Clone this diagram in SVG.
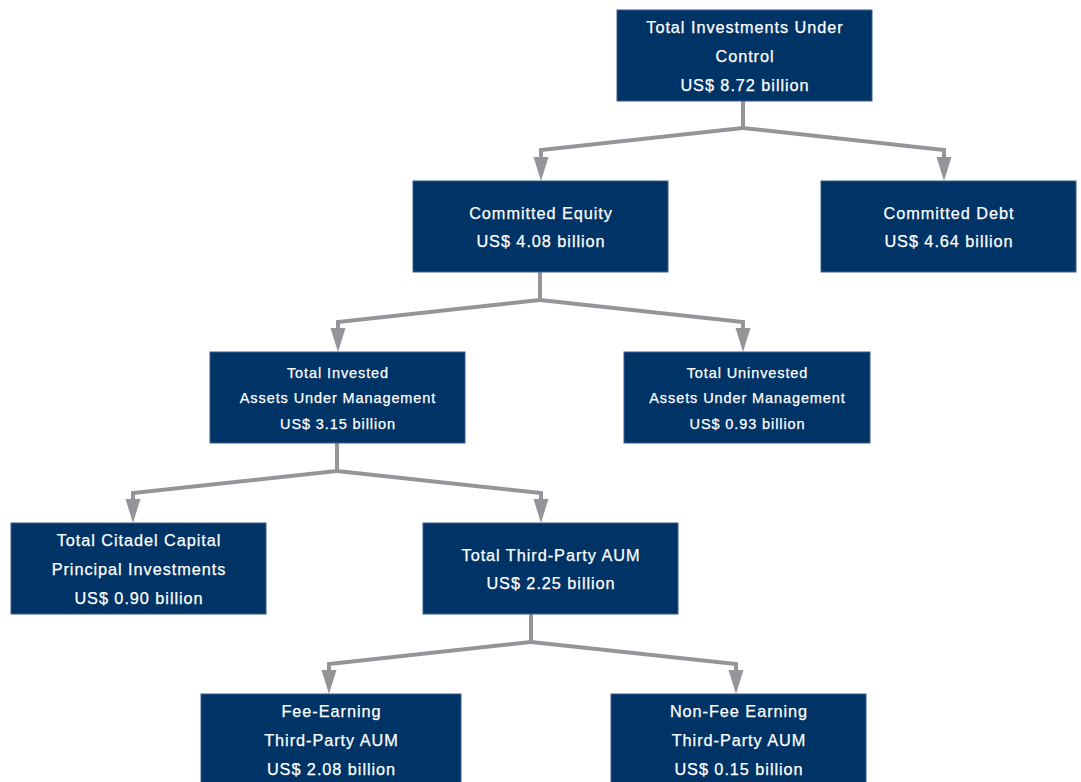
<svg xmlns="http://www.w3.org/2000/svg" width="1081" height="782" viewBox="0 0 1081 782">
<defs>
<style>
.box{fill:#003366;stroke:#3a5f8c;stroke-width:1}
.t{fill:#ffffff;stroke:#ffffff;stroke-width:0.25px;font-family:"Liberation Sans",Arial,sans-serif;font-size:16.3px;letter-spacing:0.95px;text-anchor:middle;dominant-baseline:central}
.s{font-size:14.5px;letter-spacing:0.9px}
.c{fill:none;stroke:#939598;stroke-width:4;stroke-linejoin:miter}
.ah{fill:#939598}
</style>
</defs>
<rect width="1081" height="782" fill="#ffffff"/>
<g id="connectors">
<path class="c" d="M743,101 V128 L541,150 V162"/>
<path class="c" d="M743,128 L944,150 V162"/>
<path d="M533.5,157 L548.5,157 L541,181 Z" class="ah"/>
<path d="M936.5,157 L951.5,157 L944,181 Z" class="ah"/>
<path class="c" d="M540,272 V300 L338,322 V333"/>
<path class="c" d="M540,300 L743,322 V333"/>
<path d="M330.5,328 L345.5,328 L338,352 Z" class="ah"/>
<path d="M735.5,328 L750.5,328 L743,352 Z" class="ah"/>
<path class="c" d="M337,443 V471 L133,493 V504"/>
<path class="c" d="M337,471 L541,493 V504"/>
<path d="M125.5,499 L140.5,499 L133,523 Z" class="ah"/>
<path d="M533.5,499 L548.5,499 L541,523 Z" class="ah"/>
<path class="c" d="M531,614 V642 L329,664 V675"/>
<path class="c" d="M531,642 L736,664 V675"/>
<path d="M321.5,670 L336.5,670 L329,694 Z" class="ah"/>
<path d="M728.5,670 L743.5,670 L736,694 Z" class="ah"/>
</g>
<g id="root">
<rect class="box" x="617" y="10" width="255" height="91"/>
<text class="t" x="745" y="27">Total Investments Under</text>
<text class="t" x="745" y="56">Control</text>
<text class="t" x="745" y="85">US$ 8.72 billion</text>
</g>
<g id="equity">
<rect class="box" x="413" y="181" width="255" height="91"/>
<text class="t" x="541" y="213">Committed Equity</text>
<text class="t" x="541" y="241">US$ 4.08 billion</text>
</g>
<g id="debt">
<rect class="box" x="821" y="181" width="255" height="91"/>
<text class="t" x="949" y="213">Committed Debt</text>
<text class="t" x="949" y="241">US$ 4.64 billion</text>
</g>
<g id="invested">
<rect class="box" x="210" y="352" width="255" height="91"/>
<text class="t s" x="338" y="373">Total Invested</text>
<text class="t s" x="338" y="398">Assets Under Management</text>
<text class="t s" x="338" y="424">US$ 3.15 billion</text>
</g>
<g id="uninvested">
<rect class="box" x="624" y="352" width="246" height="91"/>
<text class="t s" x="747.5" y="373">Total Uninvested</text>
<text class="t s" x="747.5" y="398">Assets Under Management</text>
<text class="t s" x="747.5" y="424">US$ 0.93 billion</text>
</g>
<g id="citadel">
<rect class="box" x="11" y="523" width="255" height="91"/>
<text class="t" x="139" y="540">Total Citadel Capital</text>
<text class="t" x="139" y="569">Principal Investments</text>
<text class="t" x="139" y="598">US$ 0.90 billion</text>
</g>
<g id="thirdparty">
<rect class="box" x="423" y="523" width="255" height="91"/>
<text class="t" x="551" y="555">Total Third-Party AUM</text>
<text class="t" x="551" y="583">US$ 2.25 billion</text>
</g>
<g id="fee">
<rect class="box" x="201" y="694" width="260" height="95"/>
<text class="t" x="331.5" y="711">Fee-Earning</text>
<text class="t" x="331.5" y="740">Third-Party AUM</text>
<text class="t" x="331.5" y="769">US$ 2.08 billion</text>
</g>
<g id="nonfee">
<rect class="box" x="611" y="694" width="255" height="95"/>
<text class="t" x="739" y="711">Non-Fee Earning</text>
<text class="t" x="739" y="740">Third-Party AUM</text>
<text class="t" x="739" y="769">US$ 0.15 billion</text>
</g>
</svg>
